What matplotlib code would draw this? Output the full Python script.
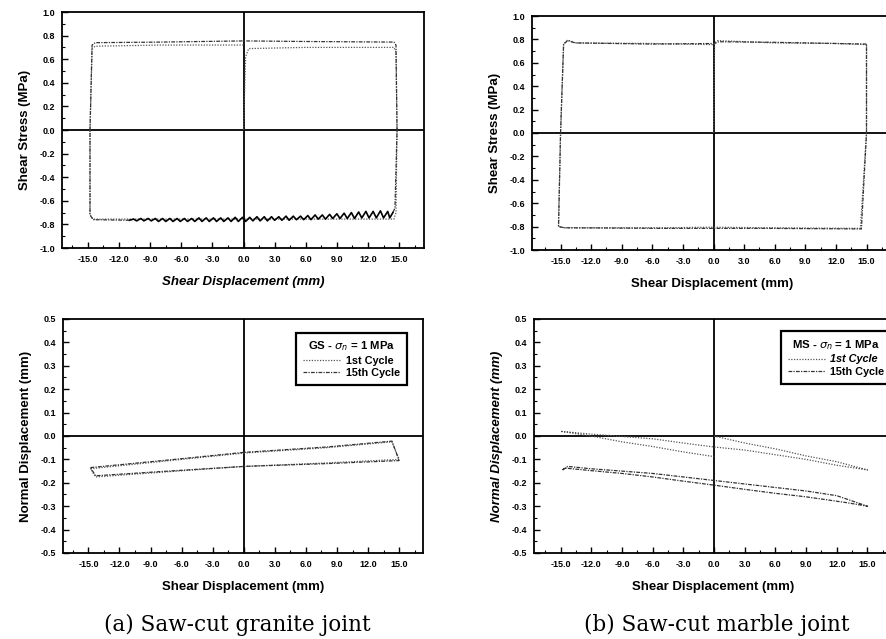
import matplotlib
matplotlib.use("Agg")
import matplotlib.pyplot as plt
from matplotlib.ticker import MultipleLocator, FormatStrFormatter
from matplotlib.lines import Line2D

plt.rcParams['font.family'] = ['Liberation Sans', 'DejaVu Sans']
plt.rcParams['axes.unicode_minus'] = False

# ---------------- data ----------------
# (a) granite: shear stress vs shear displacement
gs_c1_x = [0.0, 0.2, 0.5, 6.0, 14.5, 14.7, 14.8, 14.7, 14.5, 5.0, -5.0, -14.5, -14.8, -14.8, -14.6, -14.3, -8.0, 0.0]
gs_c1_y = [0.0, 0.62, 0.69, 0.70, 0.70, 0.66, 0.0, -0.70, -0.755, -0.755, -0.755, -0.755, -0.72, 0.0, 0.69, 0.71, 0.72, 0.72]

gs_c15_x = [-14.8, -14.6, -14.3, -8.0, 0.0, 6.0, 14.5, 14.7, 14.8, 14.6, 14.4]
gs_c15_y = [0.0, 0.72, 0.74, 0.745, 0.755, 0.75, 0.745, 0.72, 0.0, -0.66, -0.70]
# stick-slip serrations on the return stroke (right to left)
gs_saw_x = [14.4, 14.1, 13.9, 13.5, 13.2, 12.8, 12.5, 12.1, 11.8, 11.4, 11.1, 10.7, 10.4, 10.0,
            9.7, 9.3, 9.0, 8.6, 8.3, 7.9, 7.6, 7.2, 6.9, 6.5, 6.2, 5.8, 5.5, 5.1, 4.8, 4.4,
            4.1, 3.7, 3.4, 3.0, 2.7, 2.3, 2.0, 1.6, 1.3, 0.9, 0.6, 0.2, -0.1, -0.5, -0.8,
            -1.2, -1.5, -1.9, -2.2, -2.6, -2.9, -3.3, -3.6, -4.0, -4.3, -4.7, -5.0, -5.4,
            -5.7, -6.1, -6.4, -6.8, -7.1, -7.5, -7.8, -8.2, -8.5, -8.9, -9.2, -9.6, -9.9,
            -10.3, -10.6, -11.0]
gs_saw_y = [-0.70, -0.745, -0.69, -0.745, -0.685, -0.745, -0.69, -0.745, -0.69, -0.745, -0.695, -0.75, -0.70, -0.75,
            -0.705, -0.75, -0.71, -0.75, -0.715, -0.755, -0.72, -0.755, -0.72, -0.76, -0.725, -0.76, -0.73, -0.76, -0.73, -0.765,
            -0.73, -0.765, -0.735, -0.765, -0.735, -0.77, -0.735, -0.77, -0.735, -0.77, -0.74, -0.775, -0.74, -0.775, -0.74,
            -0.775, -0.745, -0.775, -0.745, -0.775, -0.745, -0.775, -0.745, -0.775, -0.745, -0.775, -0.75, -0.775,
            -0.75, -0.775, -0.75, -0.775, -0.75, -0.775, -0.75, -0.775, -0.75, -0.77, -0.75, -0.77, -0.75,
            -0.77, -0.755, -0.765]
gs_c15_tail_x = [-11.0, -14.5, -14.8, -14.8]
gs_c15_tail_y = [-0.765, -0.76, -0.72, 0.0]

# (b) marble: shear stress vs shear displacement
ms_c1_x = [0.0, 0.1, 0.4, 6.0, 12.0, 15.0, 15.0, 14.4, 5.0, 0.0, -5.0, -14.6, -15.2, -15.0, -14.7, -14.3, -13.5, -6.0, 0.0]
ms_c1_y = [0.0, 0.77, 0.79, 0.77, 0.765, 0.755, 0.0, -0.815, -0.81, -0.805, -0.81, -0.81, -0.80, 0.0, 0.76, 0.795, 0.77, 0.765, 0.755]
ms_c15_x = [-15.0, -14.7, -14.3, -13.6, -6.0, 0.1, 0.5, 6.0, 12.0, 15.0, 15.0, 14.5, 5.0, -5.0, -14.6, -15.2, -15.0]
ms_c15_y = [0.0, 0.76, 0.79, 0.77, 0.76, 0.765, 0.78, 0.775, 0.765, 0.76, 0.0, -0.82, -0.815, -0.815, -0.81, -0.80, 0.0]

# (a) granite: normal displacement
gn_c1_x = [-14.8, -6.0, 0.0, 8.0, 14.3, 15.0, 8.0, 0.0, -8.0, -14.3, -14.8]
gn_c1_y = [-0.14, -0.10, -0.073, -0.05, -0.025, -0.10, -0.115, -0.13, -0.155, -0.175, -0.14]
gn_c15_x = [-14.8, -6.0, 0.0, 8.0, 14.3, 15.0, 8.0, 0.0, -8.0, -14.3, -14.8]
gn_c15_y = [-0.135, -0.097, -0.07, -0.047, -0.022, -0.105, -0.118, -0.13, -0.152, -0.17, -0.135]

# (b) marble: normal displacement
mn_c1_x = [0.0, 3.0, 6.0, 9.0, 12.0, 15.0, 12.0, 9.0, 6.0, 3.0, 0.0, -3.0, -6.0, -9.0, -12.0, -15.0, -12.0, -9.0, -6.0, -3.0, 0.0]
mn_c1_y = [0.0, -0.03, -0.055, -0.085, -0.11, -0.145, -0.125, -0.10, -0.08, -0.06, -0.047, -0.03, -0.012, -0.002, 0.008, 0.02, 0.0, -0.025, -0.045, -0.068, -0.088]
mn_c15_x = [-14.8, -14.3, -12.0, -9.0, -6.0, -3.0, 0.0, 3.0, 6.0, 9.0, 12.0, 15.0, 13.0, 9.0, 6.0, 3.0, 0.0, -3.0, -6.0, -9.0, -12.0, -14.6, -14.8]
mn_c15_y = [-0.145, -0.13, -0.14, -0.15, -0.16, -0.175, -0.19, -0.205, -0.22, -0.235, -0.255, -0.30, -0.285, -0.26, -0.245, -0.228, -0.21, -0.193, -0.175, -0.16, -0.148, -0.137, -0.145]

xticks = [-15.0, -12.0, -9.0, -6.0, -3.0, 0.0, 3.0, 6.0, 9.0, 12.0, 15.0]

# ---------------- figure ----------------
W, H = 887, 639
fig = plt.figure(figsize=(W / 100, H / 100), dpi=100)


def add_ax(l, r, t, b):
    return fig.add_axes([l / W, 1 - b / H, (r - l) / W, (b - t) / H])


c1_kw = dict(color='#555555', lw=0.9, ls=(0, (1, 1.2)))
c15_kw = dict(color='#333333', lw=0.9, ls=(0, (3, 1, 1, 1)))


def style(ax, xlim, ylim, ymaj, ymin, xlab_style='normal', ylab_style='normal', ylabel=''):
    ax.set_xlim(*xlim)
    ax.set_ylim(*ylim)
    ax.set_xticks(xticks)
    ax.xaxis.set_minor_locator(MultipleLocator(1.5))
    ax.yaxis.set_major_locator(MultipleLocator(ymaj))
    ax.yaxis.set_minor_locator(MultipleLocator(ymin))
    ax.xaxis.set_major_formatter(FormatStrFormatter('%.1f'))
    ax.yaxis.set_major_formatter(FormatStrFormatter('%.1f'))
    ax.tick_params(which='major', direction='in', length=4, width=1.0, labelsize=6.5, pad=5)
    ax.tick_params(which='minor', direction='in', length=2, width=0.8)
    for lab in ax.get_xticklabels() + ax.get_yticklabels():
        lab.set_fontweight('bold')
    for s in ax.spines.values():
        s.set_linewidth(1.3)
    ax.axhline(0, color='black', lw=1.3, zorder=1)
    ax.axvline(0, color='black', lw=1.3, zorder=1)
    ax.set_xlabel('Shear Displacement (mm)', fontsize=9.5, fontweight='bold', style=xlab_style, labelpad=9)
    ax.set_ylabel(ylabel, fontsize=9.5, fontweight='bold', style=ylab_style, labelpad=6)


# Top-left: granite shear stress
ax1 = add_ax(62, 424, 12, 248)
ax1.plot(gs_c1_x, gs_c1_y, **c1_kw)
ax1.plot(gs_c15_x, gs_c15_y, **c15_kw)
ax1.plot(gs_saw_x, gs_saw_y, color='black', lw=1.2)
ax1.plot(gs_c15_tail_x, gs_c15_tail_y, **c15_kw)
style(ax1, (-17.5, 17.4), (-1.0, 1.0), 0.2, 0.1, xlab_style='italic', ylabel='Shear Stress (MPa)')

# Top-right: marble shear stress
ax2 = add_ax(532, 892, 16, 250)
ax2.plot(ms_c1_x, ms_c1_y, **c1_kw)
ax2.plot(ms_c15_x, ms_c15_y, **c15_kw)
style(ax2, (-17.8, 17.5), (-1.0, 1.0), 0.2, 0.1, ylabel='Shear Stress (MPa)')

# Bottom-left: granite normal displacement
ax3 = add_ax(63, 423, 319, 553)
ax3.plot(gn_c1_x, gn_c1_y, **c1_kw)
ax3.plot(gn_c15_x, gn_c15_y, **c15_kw)
style(ax3, (-17.45, 17.3), (-0.5, 0.5), 0.1, 0.05, ylabel='Normal Displacement (mm)')

# Bottom-right: marble normal displacement
ax4 = add_ax(534, 893, 319, 553)
ax4.plot(mn_c1_x, mn_c1_y, **c1_kw)
ax4.plot(mn_c15_x, mn_c15_y, **c15_kw)
style(ax4, (-17.6, 17.5), (-0.5, 0.5), 0.1, 0.05, ylab_style='italic', ylabel='Normal Displacement (mm)')


def add_legend(ax, title, italic_first, bbox):
    handles = [Line2D([], [], **c1_kw), Line2D([], [], **c15_kw)]
    leg = ax.legend(handles, ['1st Cycle', '15th Cycle'], loc='upper right', bbox_to_anchor=bbox,
                    title=title, fontsize=7.8, title_fontproperties={'weight': 'bold', 'size': 8.2},
                    frameon=True, fancybox=False, edgecolor='black', framealpha=1,
                    handlelength=3.4, handletextpad=0.5, borderpad=0.65, labelspacing=0.2)
    leg.get_frame().set_linewidth(1.6)
    texts = leg.get_texts()
    for t in texts:
        t.set_fontweight('bold')
    if italic_first:
        texts[0].set_fontstyle('italic')
    return leg


add_legend(ax3, r'GS - $\sigma_n$ = 1 MPa', False, (0.97, 0.965))
add_legend(ax4, r'MS - $\sigma_n$ = 1 MPa', True, (1.01, 0.97))

# captions
cap_kw = dict(fontsize=15.5, family=['DejaVu Serif'], ha='center', va='center')
fig.text(237 / W, 1 - 625 / H, '(a) Saw-cut granite joint', **cap_kw)
fig.text(717 / W, 1 - 625 / H, '(b) Saw-cut marble joint', **cap_kw)

fig.savefig('out.png', dpi=100)
